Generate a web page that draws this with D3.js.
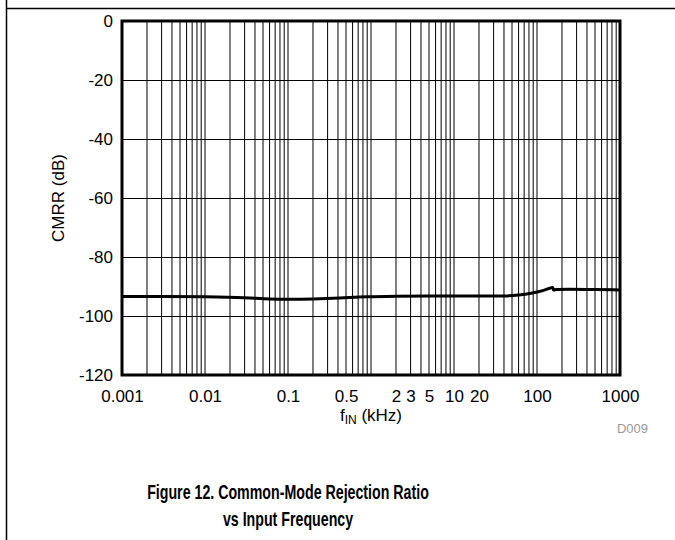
<!DOCTYPE html>
<html><head><meta charset="utf-8">
<script src="https://cdn.jsdelivr.net/npm/d3@7"></script>
<style>
body{margin:0;background:#fff}
svg{display:block}
text{font-family:"Liberation Sans",Arial,Helvetica,sans-serif}
</style>
</head><body>
<svg id="c" width="675" height="540"></svg>
<script>
// ---- data ----
const freqKHz = [0.001, 0.003, 0.01, 0.03, 0.06, 0.1, 0.2, 0.35, 0.9, 2, 5, 20, 40, 60, 85, 120, 155, 158, 170, 250, 500, 1000];
const cmrrDb  = [-93.4, -93.4, -93.5, -93.8, -94.2, -94.3, -94.2, -94.0, -93.5, -93.3, -93.2, -93.2, -93.2, -92.9, -92.3, -91.3, -90.3, -91.2, -91.0, -90.9, -91.0, -91.2];
const xTickValues = [0.001, 0.01, 0.1, 0.5, 2, 3, 5, 10, 20, 100, 1000];
const xTickLabels = ["0.001", "0.01", "0.1", "0.5", "2", "3", "5", "10", "20", "100", "1000"];
const yTickValues = [0, -20, -40, -60, -80, -100, -120];
const yTickLabels = ["0", "-20", "-40", "-60", "-80", "-100", "-120"];
const captionLines = ["Figure 12. Common-Mode Rejection Ratio", "vs Input Frequency"];

const svg = d3.select("#c");
const L = 122, R = 620, T = 21, B = 375;
const x = d3.scaleLog().domain([0.001, 1000]).range([L, R]);
const y = d3.scaleLinear().domain([-120, 0]).range([B, T]);

// page frame lines
svg.append("line").attr("x1", 6).attr("x2", 675).attr("y1", 8.5).attr("y2", 8.5)
  .attr("stroke", "#000").attr("stroke-width", 1.5);
svg.append("line").attr("x1", 6.5).attr("x2", 6.5).attr("y1", 0).attr("y2", 540)
  .attr("stroke", "#000").attr("stroke-width", 1.5);

// grid
const g = svg.append("g");
g.selectAll("line.vg").data(x.ticks()).join("line").attr("class", "vg")
  .attr("x1", d => x(d)).attr("x2", d => x(d)).attr("y1", T).attr("y2", B)
  .attr("stroke", "#000").attr("stroke-width", 1);
g.selectAll("line.hg").data(yTickValues).join("line").attr("class", "hg")
  .attr("x1", L).attr("x2", R).attr("y1", d => y(d) + 0.5).attr("y2", d => y(d) + 0.5)
  .attr("stroke", "#000").attr("stroke-width", 1);

// axes
const yAxis = d3.axisLeft(y).tickValues(yTickValues)
  .tickFormat((d, i) => yTickLabels[i]).tickSize(0).tickPadding(9);
const ya = svg.append("g").attr("transform", `translate(${L},0)`).call(yAxis);
const xAxis = d3.axisBottom(x).tickValues(xTickValues)
  .tickFormat((d, i) => xTickLabels[i]).tickSize(0).tickPadding(15);
const xa = svg.append("g").attr("transform", `translate(0,${B})`).call(xAxis);
[ya, xa].forEach(a => {
  a.select(".domain").remove();
  a.selectAll("text").attr("font-size", 17).attr("fill", "#000")
    .style("font-family", '"Liberation Sans",Arial,sans-serif');
});

// curve
svg.append("path").datum(freqKHz.map((f, i) => [f, cmrrDb[i]]))
  .attr("fill", "none").attr("stroke", "#000").attr("stroke-width", 3)
  .attr("stroke-linejoin", "round")
  .attr("d", d3.line().x(d => x(d[0])).y(d => y(d[1])).curve(d3.curveMonotoneX));

// plot border
svg.append("rect").attr("x", L).attr("y", T).attr("width", R - L).attr("height", B - T)
  .attr("fill", "none").attr("stroke", "#000").attr("stroke-width", 3);

// axis titles
svg.append("text").attr("transform", "translate(64,198) rotate(-90)")
  .attr("text-anchor", "middle").attr("font-size", 17).text("CMRR (dB)");
const xt = svg.append("text").attr("x", (L + R) / 2).attr("y", 421)
  .attr("text-anchor", "middle").attr("font-size", 17);
xt.append("tspan").text("f");
xt.append("tspan").attr("font-size", 12).attr("dy", 3).text("IN");
xt.append("tspan").attr("dy", -3).text(" (kHz)");

svg.append("text").attr("x", 648).attr("y", 433).attr("text-anchor", "end")
  .attr("font-size", 13).attr("fill", "#999").text("D009");

// caption (condensed bold)
const capW = 282, capCx = 288;
const cap = svg.append("g");
const t1 = cap.append("text").attr("font-size", 19.5).attr("font-weight", "bold")
  .attr("text-anchor", "middle").attr("y", 499).text(captionLines[0]);
const sx = capW / t1.node().getComputedTextLength();
cap.append("text").attr("font-size", 19.5).attr("font-weight", "bold")
  .attr("text-anchor", "middle").attr("y", 526).text(captionLines[1]);
cap.attr("transform", `translate(${capCx},0) scale(${sx},1)`);
</script>
</body></html>
